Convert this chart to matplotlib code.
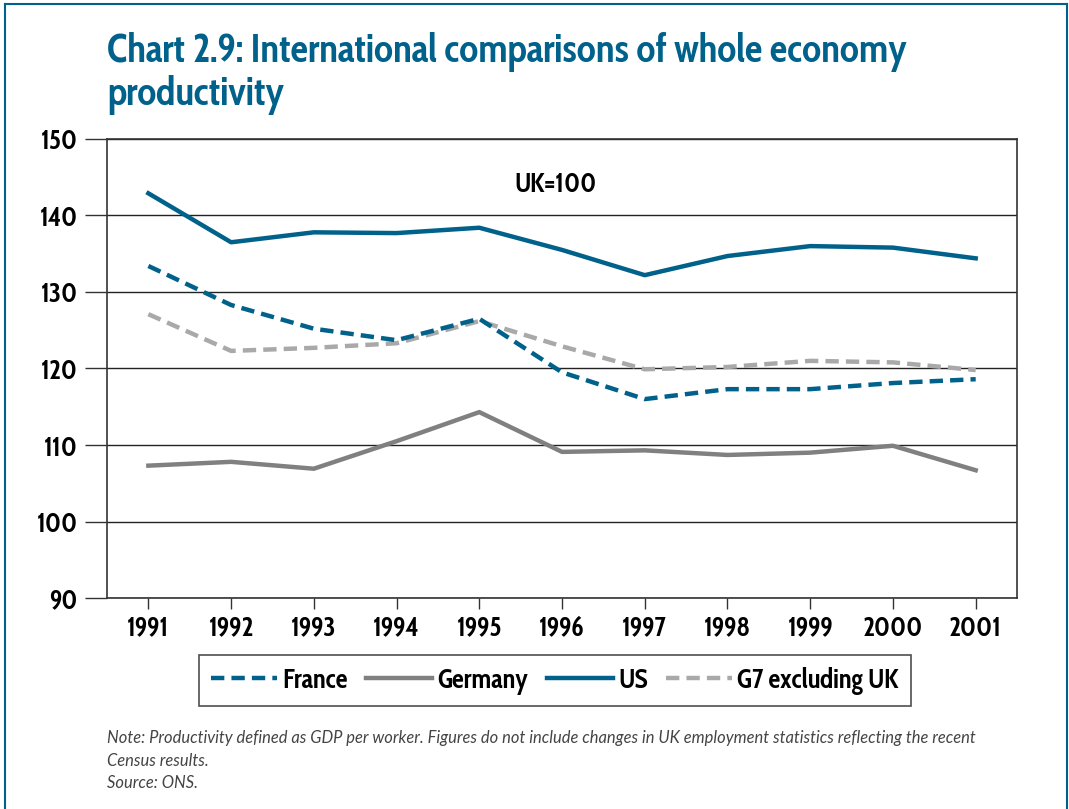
# Whole economy productivity, international comparison (UK = 100)

import matplotlib
matplotlib.use('Agg')
import matplotlib.pyplot as plt
from matplotlib.lines import Line2D

years = ['1991', '1992', '1993', '1994', '1995', '1996',
         '1997', '1998', '1999', '2000', '2001']
france = [133.4, 128.3, 125.2, 123.7, 126.5, 119.5, 116.0, 117.3, 117.3, 118.1, 118.6]
germany = [107.3, 107.8, 106.9, 110.5, 114.3, 109.1, 109.3, 108.7, 109.0, 109.9, 106.7]
us = [142.9, 136.5, 137.8, 137.7, 138.4, 135.5, 132.2, 134.7, 136.0, 135.8, 134.4]
g7_ex_uk = [127.1, 122.3, 122.7, 123.3, 126.2, 122.9, 119.9, 120.2, 121.0, 120.8, 119.8]
y_ticks = [90, 100, 110, 120, 130, 140, 150]

BLUE = '#00618b'
GREY = '#808080'
LIGHT_GREY = '#a9a9a9'
DASH = (0, (3, 1.6))

plt.rcParams['font.family'] = ['Cabin Condensed', 'DejaVu Sans']

fig = plt.figure(figsize=(10.69, 8.09), dpi=100)
ax = fig.add_axes([0.1001, 0.2608, 0.8513, 0.5674])

x = list(range(len(years)))
ax.plot(x, germany, color=GREY, lw=3.2, label='Germany', zorder=3)
ax.plot(x, g7_ex_uk, color=LIGHT_GREY, lw=3.2, ls=DASH, label='G7 excluding UK', zorder=3)
ax.plot(x, france, color=BLUE, lw=3.2, ls=DASH, label='France', zorder=4)
ax.plot(x, us, color=BLUE, lw=3.2, label='US', zorder=4)

ax.set_xlim(-0.5, len(years) - 0.5)
ax.set_ylim(90, 150)
ax.set_yticks(y_ticks)
ax.set_yticklabels([str(v) for v in y_ticks], fontsize=19, fontweight='bold')
ax.set_xticks(x)
ax.set_xticklabels(years, fontsize=19, fontweight='bold')
ax.tick_params(axis='y', length=16, width=1, pad=5, color='#333333')
ax.tick_params(axis='x', length=8, width=1, pad=4, color='#333333')
ax.yaxis.grid(True, color='#222222', lw=1)
ax.set_axisbelow(True)
for s in ax.spines.values():
    s.set_color('#333333')
    s.set_linewidth(1.2)

ax.text(0.493, 0.9, 'UK=100', transform=ax.transAxes, ha='center', va='center',
        fontsize=19, fontweight='bold')

# legend in the order France, Germany, US, G7
handles = [
    Line2D([], [], color=BLUE, lw=3.2, ls=DASH),
    Line2D([], [], color=GREY, lw=3.2),
    Line2D([], [], color=BLUE, lw=3.2),
    Line2D([], [], color=LIGHT_GREY, lw=3.2, ls=DASH),
]
labels = ['France', 'Germany', 'US', 'G7 excluding UK']
leg = fig.legend(handles, labels, loc='center', bbox_to_anchor=(0.519, 0.1588),
                 ncol=4, frameon=True, fancybox=False,
                 handlelength=2.5, handletextpad=0.2, columnspacing=0.7,
                 borderpad=0.45, prop={'weight': 'bold', 'size': 19})
leg.get_frame().set_edgecolor('#222222')
leg.get_frame().set_linewidth(1.2)

# title, two lines
fig.text(0.1001, 1 - 62 / 809, 'Chart 2.9: International comparisons of whole economy',
         ha='left', va='baseline', fontsize=28, fontweight='bold', color=BLUE)
fig.text(0.1001, 1 - 105 / 809, 'productivity',
         ha='left', va='baseline', fontsize=28, fontweight='bold', color=BLUE)

notes = ['Note: Productivity defined as GDP per worker. Figures do not include changes in UK employment '
         'statistics reflecting the recent',
         'Census results.',
         'Source: ONS.']
for line, base in zip(notes, [743, 766, 788]):
    fig.text(0.1001, 1 - base / 809, line, ha='left', va='baseline', fontsize=11.9,
             style='italic', family=['Lato', 'DejaVu Sans'], color='#444444')

# page border
border = dict(color=BLUE, lw=1.5, transform=fig.transFigure)
fig.add_artist(Line2D([0.005, 0.005], [0, 0.995], **border))
fig.add_artist(Line2D([0.005, 0.998], [0.995, 0.995], **border))
fig.add_artist(Line2D([0.998, 0.998], [0, 0.995], **border))

fig.savefig('out.png', dpi=100)
